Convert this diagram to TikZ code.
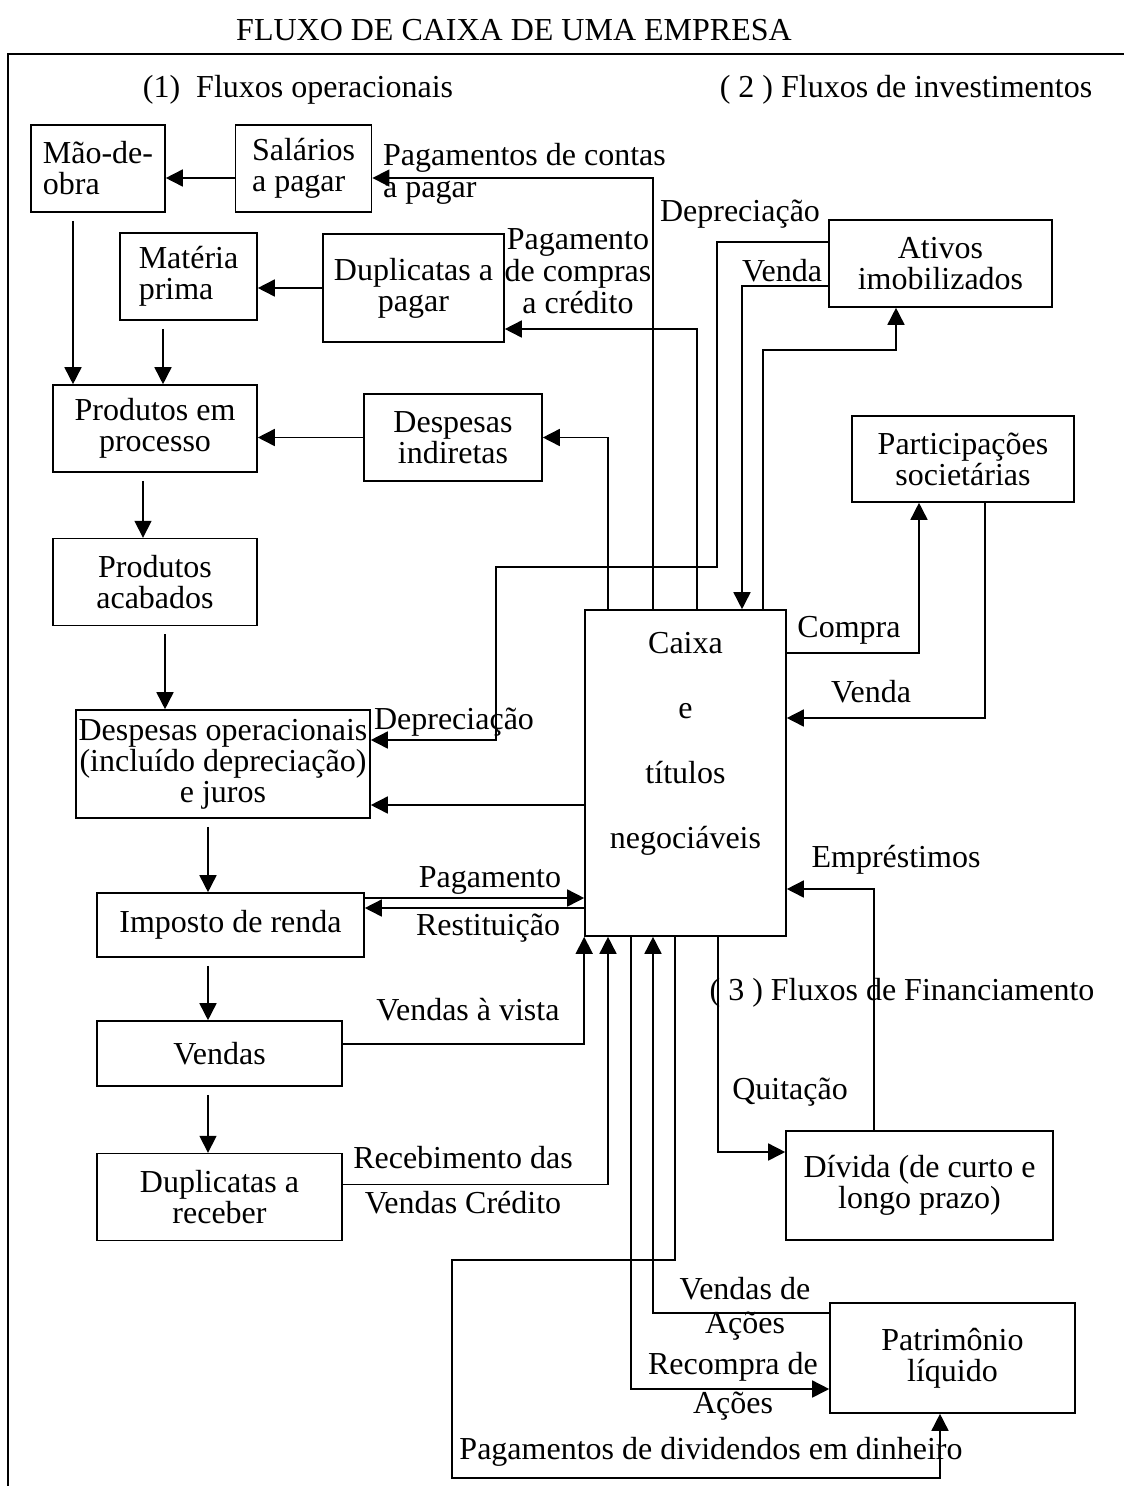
\documentclass[tikz,border=0pt]{standalone}
\usepackage{fontspec}
\setmainfont{Liberation Serif}
\usepackage{tikz}
\usetikzlibrary{positioning,arrows.meta}

\tikzset{
  box/.style={draw, rectangle, fill=white, line width=1.6pt, inner sep=0pt, align=center},
  arr/.style={-{Triangle[length=17pt,width=17pt]}, line width=1.6pt},
  txt/.style={inner sep=0pt, align=center}
}

\begin{document}
\begin{tikzpicture}[x=1pt, y=-1pt, font=\fontsize{32}{31}\selectfont]

	\useasboundingbox (0,0) rectangle (1124,1486);

	% \draw[help lines, step=50, gray!20] (0,0) grid (1124,1486);

	\node[txt] (TITLE) at (514,30) {FLUXO DE CAIXA DE UMA EMPRESA};
	\draw[line width=1.6pt] (8,1486) -- (8,54) -- (1124,54);

	\node[txt] (H1) at (298,90) {(1)\ \ Fluxos operacionais};
	\node[txt] (H2) at (906,90) {( 2 ) Fluxos de investimentos};
	\node[txt] (H3) at (902,993) {( 3 ) Fluxos de Financiamento};

	% fluxos operacionais
	\node[box,
	align=left,
	minimum width=134pt,
	minimum height=87pt] (MDO) at (98,168.5) {Mão-de-\\obra};

	\node[box,
	align=left,
	minimum width=136pt,
	minimum height=87pt] (SAL) [right = 69pt of MDO] {Salários\\a pagar};

	\node[box,
	align=left,
	minimum width=137pt,
	minimum height=87pt] (MAT) at (188.5,276.5) {Matéria\\prima};

	\node[box,
	minimum width=181pt,
	minimum height=108pt] (DUPP) at (413.5,288) {Duplicatas a\\pagar};

	\node[box,
	minimum width=204pt,
	minimum height=87pt] (PEP) at (155,428.5) {Produtos em\\processo};

	\node[box,
	minimum width=178pt,
	minimum height=87pt] (DIND) at (453,437.5) {Despesas\\indiretas};

	\node[box,
	minimum width=204pt,
	minimum height=87pt] (PAC) [below = 65pt of PEP] {Produtos\\acabados};

	\node[box,
	minimum width=294pt,
	minimum height=108pt] (DOP) at (223,764) {Despesas operacionais\\(incluído depreciação)\\e juros};

	\node[box,
	minimum width=267pt,
	minimum height=64pt] (IR) at (230.5,925) {Imposto de renda};

	\node[box,
	minimum width=245pt,
	minimum height=65pt] (VEN) at (219.5,1053.5) {Vendas};

	\node[box,
	minimum width=245pt,
	minimum height=87pt] (DUPR) [below = 66pt of VEN] {Duplicatas a\\receber};

	\node[box,
	minimum width=201pt,
	minimum height=326pt] (CAIXA) at (685.5,773) {Caixa\\[34pt]e\\[34pt]títulos\\[34pt]negociáveis\\[34pt]\mbox{}};

	% fluxos de investimentos
	\node[box,
	minimum width=223pt,
	minimum height=87pt] (ATIV) at (940.5,263.5) {Ativos\\imobilizados};

	\node[box,
	minimum width=222pt,
	minimum height=86pt] (PART) at (963,459) {Participações\\societárias};

	% fluxos de financiamento
	\node[box,
	minimum width=267pt,
	minimum height=109pt] (DIV) at (919.5,1185.5) {Dívida (de curto e\\longo prazo)};

	\node[box,
	minimum width=245pt,
	minimum height=110pt] (PAT) at (952.5,1358) {Patrimônio\\líquido};

	\draw[arr] ([yshift=-9.5pt]SAL.west) -- ([yshift=-9.5pt]SAL.west -| MDO.east);
	\draw[arr] ([xshift=-32.5pt]CAIXA.north) |- ([yshift=-9.5pt]SAL.east);
	\draw[arr] (DUPP.west) -- (DUPP.west -| MAT.east);
	\draw[arr] ([xshift=11.5pt]CAIXA.north) |- ([yshift=-41pt]DUPP.east);
	\draw[arr, shorten <=8pt] ([xshift=-25pt]MDO.south) -- ([xshift=-25pt]MDO.south |- PEP.north);
	\draw[arr, shorten <=8pt] ([xshift=-25.5pt]MAT.south) -- ([xshift=-25.5pt]MAT.south |- PEP.north);
	\draw[arr] (DIND.west) -- (DIND.west -| PEP.east);
	\draw[arr] ([xshift=-77.5pt]CAIXA.north) |- (DIND.east);
	\draw[arr, shorten <=8pt] ([xshift=-12pt]PEP.south) -- ([xshift=-12pt]PAC.north);
	\draw[arr, shorten <=8pt] ([xshift=10pt]PAC.south) -- ([xshift=10pt]PAC.south |- DOP.north);
	\draw[arr] ([yshift=-32pt]CAIXA.west) -- ([yshift=-32pt]CAIXA.west -| DOP.east);
	\draw[arr, shorten <=8pt] ([xshift=-15pt]DOP.south) -- ([xshift=-15pt]DOP.south |- IR.north);
	\draw[arr] ([yshift=27pt]IR.east) -- ([yshift=27pt]IR.east -| CAIXA.west);
	\draw[arr] ([yshift=17pt]IR.east -| CAIXA.west) -- ([yshift=17pt]IR.east);
	\draw[arr, shorten <=8pt] ([xshift=-22.5pt]IR.south) -- ([xshift=-22.5pt]IR.south |- VEN.north);
	\draw[arr, shorten <=8pt] ([xshift=-11.5pt]VEN.south) -- ([xshift=-11.5pt]DUPR.north);
	\draw[arr] ([yshift=9.5pt]VEN.east) -| (CAIXA.south west);
	\draw[arr] ([yshift=12.5pt]DUPR.east) -| ([xshift=-77.5pt]CAIXA.south);

	\draw[arr] ([yshift=21.5pt]ATIV.west) -- ++(-111,0) -- ++(0,325) -- ++(-221,0) |- ([yshift=24pt]DOP.east);
	\draw[arr] ([yshift=-22.5pt]ATIV.west) -| ([xshift=56.5pt]CAIXA.north);
	\draw[arr] ([xshift=77.5pt]CAIXA.north) -- ++(0,-259) -| ([xshift=-44.5pt]ATIV.south);
	\draw[arr] ([yshift=120pt]CAIXA.east) -| ([xshift=-44pt]PART.south);
	\draw[arr] ([xshift=22pt]PART.south) |- ([yshift=55pt]CAIXA.east);

	\draw[arr] ([xshift=-45.5pt]DIV.north) |- ([yshift=-116pt]CAIXA.east);
	\draw[arr] ([xshift=32.5pt]CAIXA.south) |- ([yshift=33.5pt]DIV.west);
	\draw[arr] ([xshift=-54.5pt]CAIXA.south) |- ([yshift=-31pt]PAT.west);
	\draw[arr] ([yshift=45pt]PAT.west) -| ([xshift=-32.5pt]CAIXA.south);
	\draw[arr] ([xshift=-10.5pt]CAIXA.south) -- ++(0,323) -- ++(-223,0) -- ++(0,218) -| ([xshift=-12.5pt]PAT.south);

	\node[txt, align=left, anchor=west] (tContas) at (383,174) {Pagamentos de contas\\[1pt]a pagar};
	\node[txt] (tCompras) at (578,271) {Pagamento\\[1pt]de compras\\[1pt]a crédito};
	\node[txt] (tDepA) at (740,214) {Depreciação};
	\node[txt] (tVendaA) at (782,271) {Venda};
	\node[txt] (tCompra) at (849,630) {Compra};
	\node[txt] (tVendaP) at (871,692) {Venda};
	\node[txt] (tDepD) at (454,722) {Depreciação};
	\node[txt] (tEmp) at (896,860) {Empréstimos};
	\node[txt] (tPag) at (490,880) {Pagamento};
	\node[txt] (tRest) at (488,928) {Restituição};
	\node[txt] (tVista) at (468,1010) {Vendas à vista};
	\node[txt] (tReceb) at (463,1180) {Recebimento das\\[14pt]Vendas Crédito};
	\node[txt] (tQuit) at (790,1092) {Quitação};
	\node[txt] (tVAcoes) at (745,1309) {Vendas de\\[3pt]Ações};
	\node[txt] (tRecompra) at (733,1386) {Recompra de\\[8pt]Ações};
	\node[txt] (tDiv) at (711,1452) {Pagamentos de dividendos em dinheiro};

\end{tikzpicture}
\end{document}
